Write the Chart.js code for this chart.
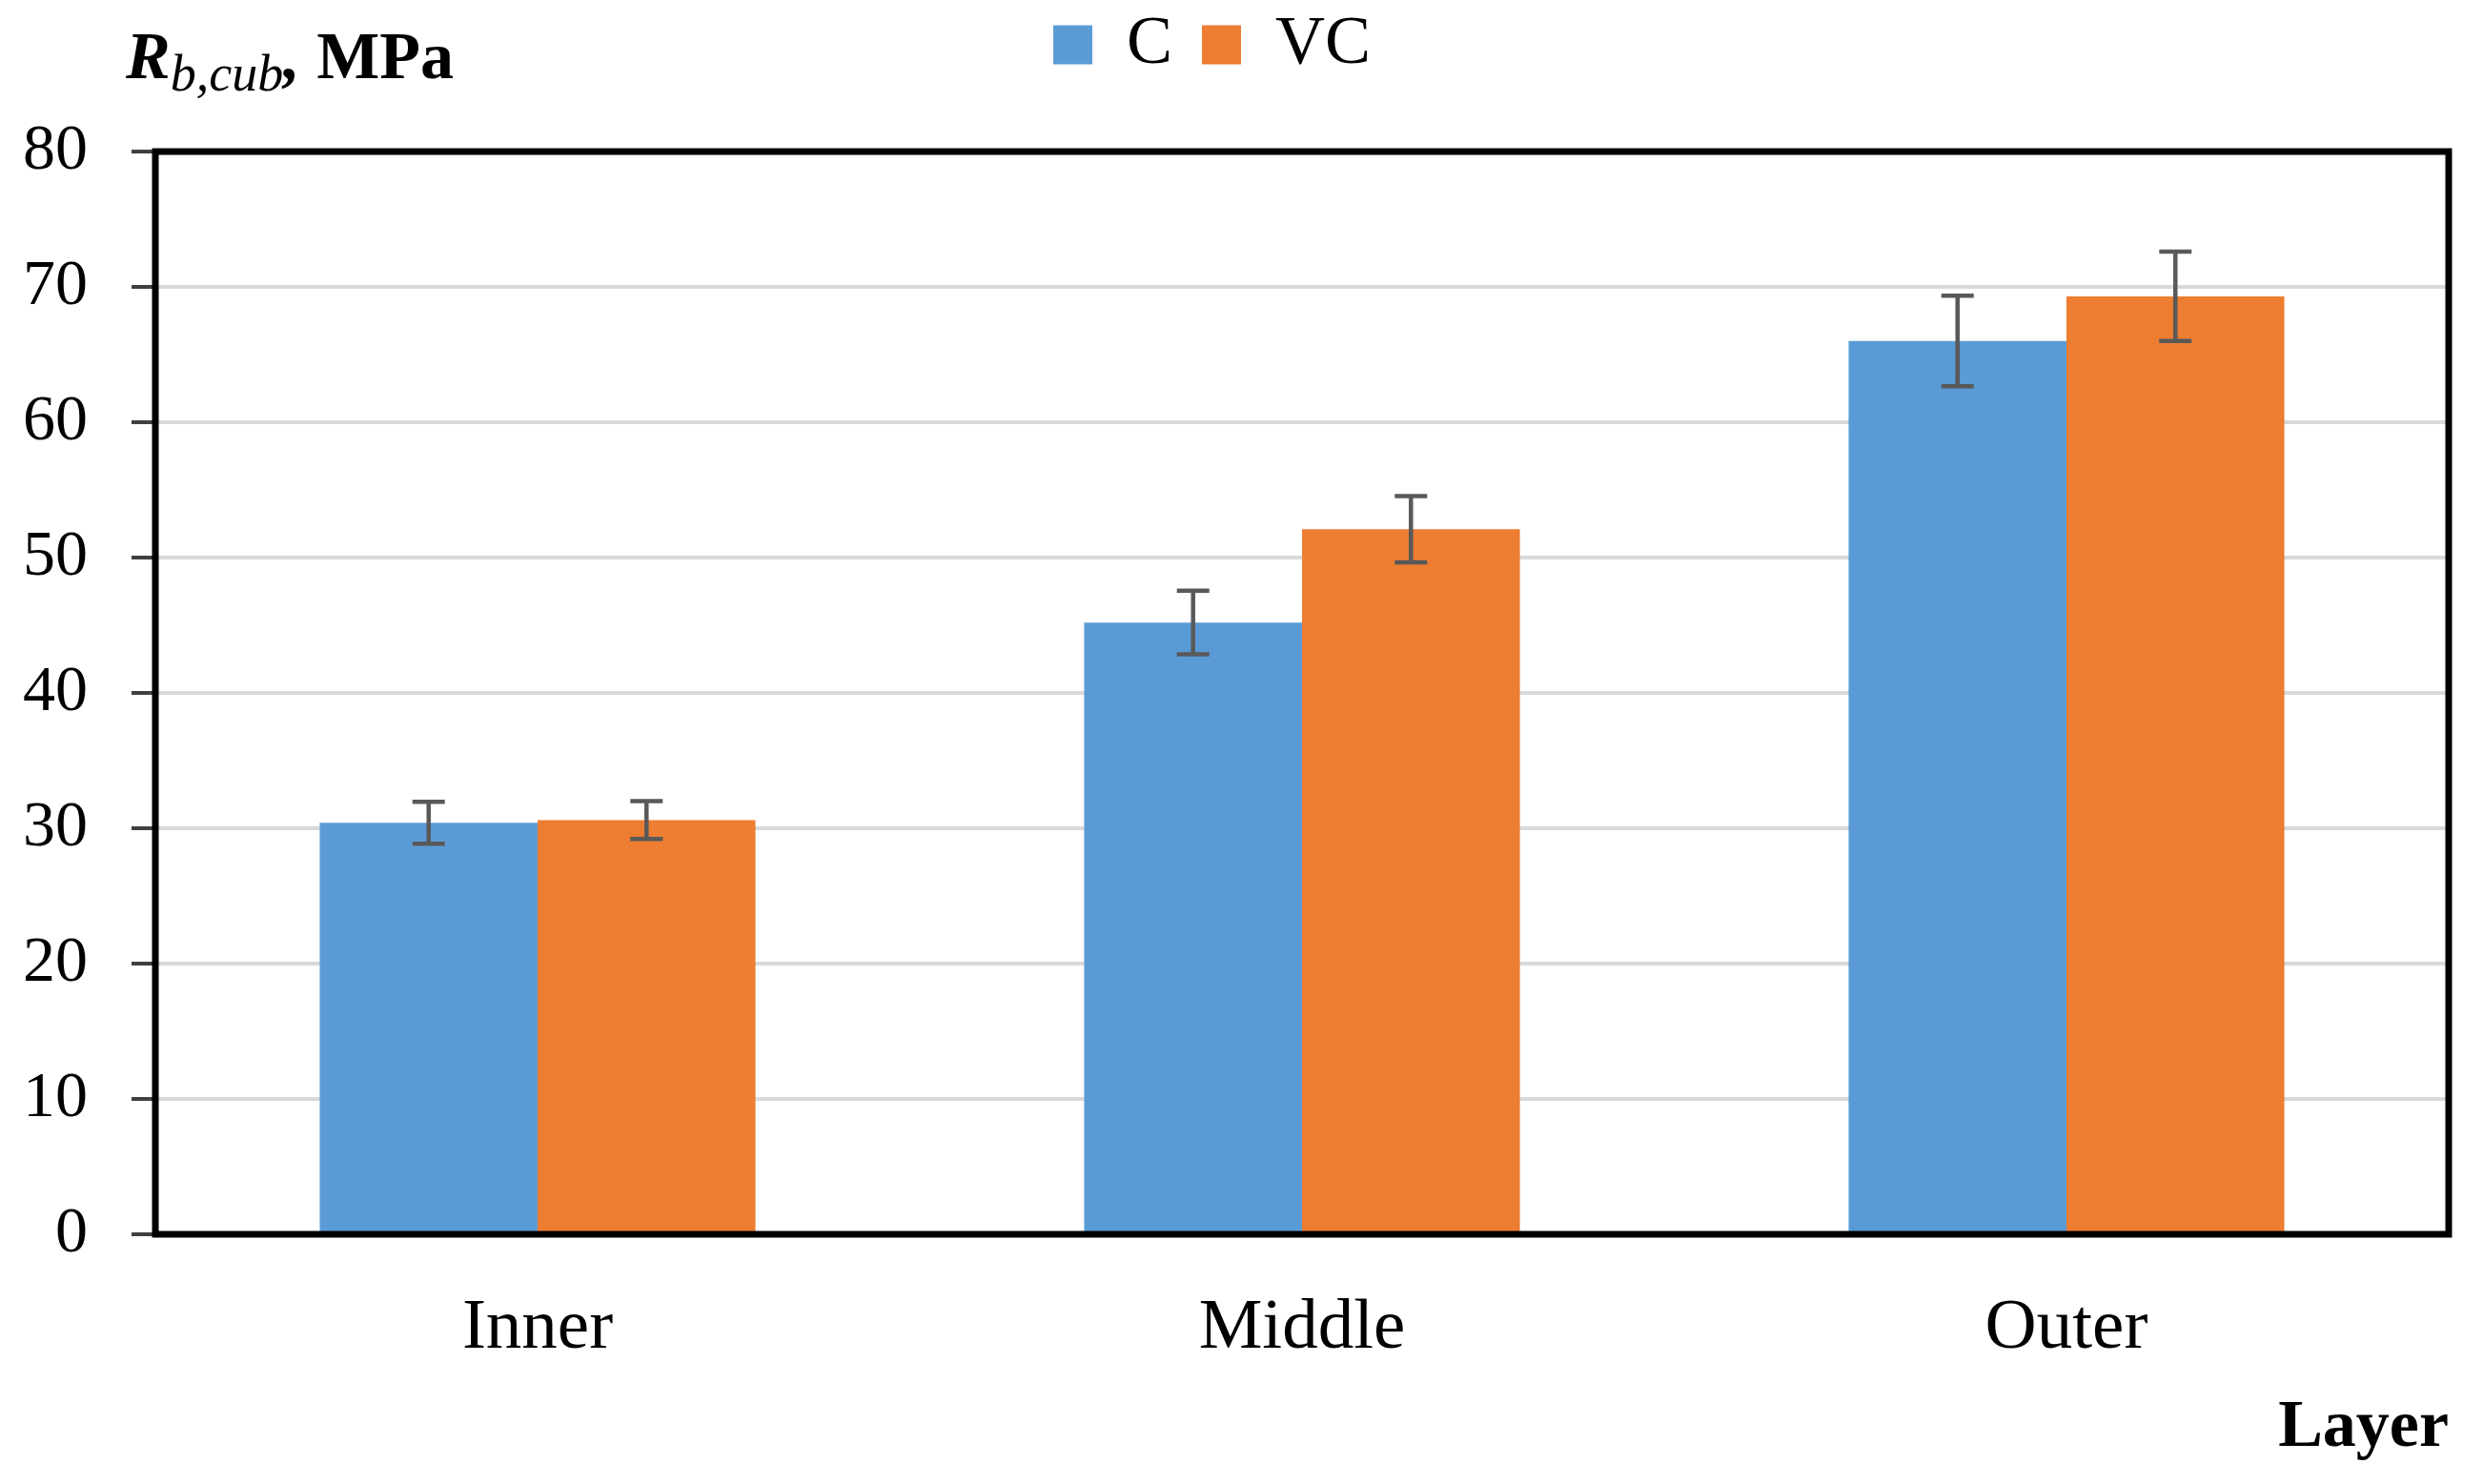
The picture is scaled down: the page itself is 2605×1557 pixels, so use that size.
<!DOCTYPE html>
<html>
<head>
<meta charset="utf-8">
<script src="https://cdn.jsdelivr.net/npm/chart.js@4.4.1/dist/chart.umd.min.js"></script>
<style>
  body { margin: 0; background: #fff; }
  #wrap { position: relative; width: 2605px; height: 1557px; }
  #ytitle {
    position: absolute; left: 132px; top: 24px;
    font-family: "Liberation Serif", serif; font-weight: bold; font-size: 70px;
    line-height: 70px; color: #000; white-space: nowrap;
  }
  #ytitle sub { font-size: 54px; font-style: italic; font-weight: normal; vertical-align: -13px; line-height: 0; }
</style>
</head>
<body>
<div id="wrap">
  <canvas id="grafico" width="2605" height="1557"></canvas>
  <div id="ytitle"><i>R</i><sub>b,cub</sub><i>,</i> MPa</div>
</div>
<script>
// datos
var capas = ['Inner', 'Middle', 'Outer'];
var valoresC = [30.4, 45.2, 66.0];
var valoresVC = [30.6, 52.1, 69.3];
var errorC = [1.55, 2.35, 3.35];
var errorVC = [1.4, 2.45, 3.3];
var ticksY = [0, 10, 20, 30, 40, 50, 60, 70, 80];

var fuente = '"Liberation Serif", serif';
Chart.defaults.color = '#000';

// espacio extra bajo la leyenda y pequeño ajuste de su posición
var ajusteLeyenda = {
    id: 'ajusteLeyenda',
    beforeInit: function(chart) {
        var fitOriginal = chart.legend.fit;
        chart.legend.fit = function() {
            fitOriginal.bind(chart.legend)();
            this.height += 46;
        };
    },
    afterLayout: function(chart) {
        chart.legend.left -= 25;
        chart.legend.right -= 25;
        chart.legend.top -= 20;
    }
};

// barras de error y marco del área
var barrasError = {
    id: 'barrasError',
    afterDatasetsDraw: function(chart) {
        var ctx = chart.ctx;
        var y = chart.scales.y;
        var errores = [errorC, errorVC];
        ctx.save();
        ctx.strokeStyle = '#595959';
        ctx.lineWidth = 4.5;
        chart.data.datasets.forEach(function(ds, i) {
            var meta = chart.getDatasetMeta(i);
            meta.data.forEach(function(bar, j) {
                var v = ds.data[j];
                var e = errores[i][j];
                var yArriba = y.getPixelForValue(v + e);
                var yAbajo = y.getPixelForValue(v - e);
                var cap = 17;
                ctx.beginPath();
                ctx.moveTo(bar.x, yArriba);
                ctx.lineTo(bar.x, yAbajo);
                ctx.moveTo(bar.x - cap, yArriba);
                ctx.lineTo(bar.x + cap, yArriba);
                ctx.moveTo(bar.x - cap, yAbajo);
                ctx.lineTo(bar.x + cap, yAbajo);
                ctx.stroke();
            });
        });
        var a = chart.chartArea;
        ctx.strokeStyle = '#000';
        ctx.lineWidth = 7;
        ctx.strokeRect(a.left, a.top, a.right - a.left, a.bottom - a.top);
        ctx.restore();
    }
};

var ctx = document.getElementById('grafico').getContext('2d');
var grafico = new Chart(ctx, {
    type: 'bar',
    data: {
        labels: capas,
        datasets: [{
            label: 'C',
            data: valoresC,
            backgroundColor: '#5B9BD5',
            borderWidth: 0
        }, {
            label: 'VC',
            data: valoresVC,
            backgroundColor: '#ED7D31',
            borderWidth: 0
        }]
    },
    options: {
        responsive: false,
        animation: false,
        devicePixelRatio: 1,
        datasets: {
            bar: { categoryPercentage: 0.57, barPercentage: 1.0 }
        },
        layout: {
            padding: { left: 24, right: 36, top: 0, bottom: 16 }
        },
        plugins: {
            tooltip: { enabled: false },
            legend: {
                position: 'top',
                labels: {
                    boxWidth: 41,
                    boxHeight: 41,
                    padding: 31,
                    color: '#000',
                    font: { family: fuente, size: 72 }
                }
            }
        },
        scales: {
            x: {
                afterFit: function(axis) { axis.height = 246; },
                grid: { display: false, drawTicks: false },
                border: { display: false },
                ticks: {
                    padding: 54,
                    color: '#000',
                    font: { family: fuente, size: 75 }
                },
                title: {
                    display: true,
                    text: 'Layer',
                    align: 'end',
                    color: '#000',
                    font: { family: fuente, size: 70, weight: 'bold' },
                    padding: { top: 23, bottom: 0 }
                }
            },
            y: {
                min: 0,
                max: 80,
                afterBuildTicks: function(axis) {
                    axis.ticks = ticksY.map(function(v) { return { value: v }; });
                },
                afterFit: function(axis) { axis.width = 139; },
                grid: {
                    color: '#D9D9D9',
                    lineWidth: 4,
                    tickLength: 25,
                    tickColor: '#404040',
                    tickWidth: 4
                },
                border: { display: false },
                ticks: {
                    padding: 46,
                    color: '#000',
                    font: { family: fuente, size: 68 }
                }
            }
        }
    },
    plugins: [ajusteLeyenda, barrasError]
});
</script>
</body>
</html>
